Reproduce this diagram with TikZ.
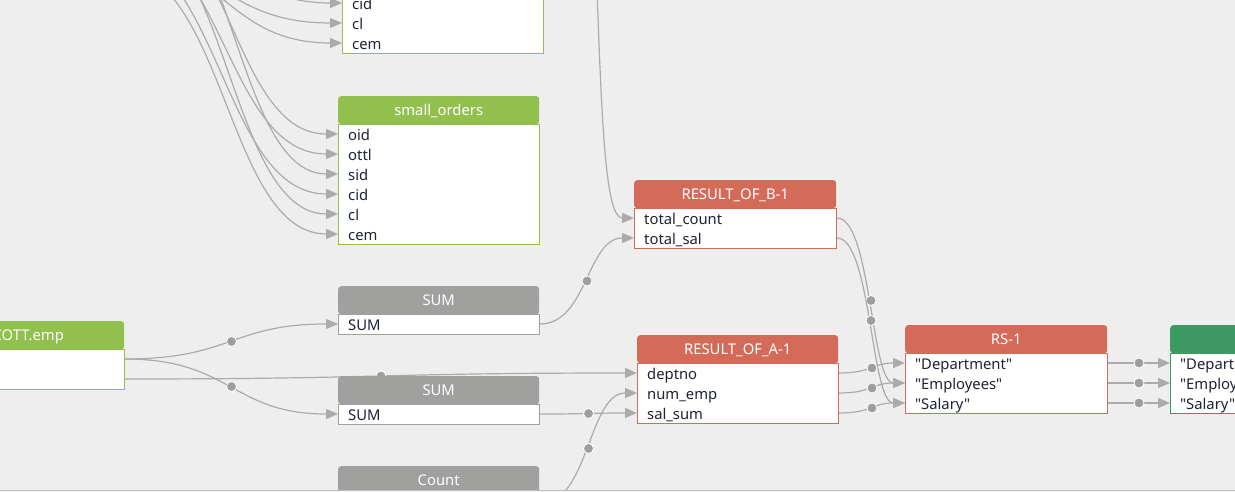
\documentclass[tikz,border=0pt]{standalone}
\usepackage{fontspec}
\setmainfont{Noto Sans}[Ligatures=TeXOff]
\usetikzlibrary{arrows.meta,calc}
\pgfdeclarelayer{back}
\pgfdeclarelayer{wires}
\pgfsetlayers{back,wires,main}
\definecolor{bgc}{HTML}{EEEEEE}
\definecolor{lime}{HTML}{92C04F}
\definecolor{redh}{HTML}{D46A58}
\definecolor{grayh}{HTML}{A0A19F}
\definecolor{dgreen}{HTML}{3E9A63}
\definecolor{connc}{HTML}{ABABAB}
\definecolor{dotc}{HTML}{9E9E9E}
\definecolor{txt}{HTML}{1F2235}
\definecolor{bline}{HTML}{BDBDBD}
\newcommand\dq{\symbol{34}}

\newcommand\mktable[8]{%
 \node[hdr, fill=#5, minimum width=#4pt] (#1-h) at (#2,#3) {#6};
 \node[bodybox, draw=#5, minimum width=#4pt, minimum height=#7pt] (#1) at (#2,#3+28) {};
 \foreach \t [count=\i] in {#8} {\node[rowtxt] (#1-\i) at (#2+10,#3+18+20*\i) {\t};}
}

\begin{document}
\begin{tikzpicture}[x=1pt,y=-1pt,
  hdr/.style={rounded corners=3pt, inner sep=0, minimum height=28pt, text=white,
    text height=14pt, text depth=3pt,
    font=\fontsize{14.8}{16}\selectfont, anchor=north west},
  bodybox/.style={fill=white, line width=1pt, inner sep=0, anchor=north west},
  rowtxt/.style={anchor=west, inner sep=0, text=txt, text height=16.5pt, text depth=3pt,
    font=\fontsize{14.8}{16}\selectfont},
  conn/.style={draw=connc, line width=1.2pt, -{Triangle[length=12pt,width=10pt]}},
  dot/.style={circle, fill=dotc, draw=white, line width=0.8pt, inner sep=0, minimum size=10pt},
  hv/.style={to path={let \p1=(\tikztostart), \p2=(\tikztotarget) in
     .. controls (\x1/2+\x2/2,\y1) and (\x1/2+\x2/2,\y2) .. (\tikztotarget) \tikztonodes}}
]
\useasboundingbox (0,0) rectangle (1235,492);
\clip (0,0) rectangle (1235,492);
\begin{pgfonlayer}{back}
\fill[bgc] (0,0) rectangle (1235,492);
\end{pgfonlayer}

\mktable{tb}{342}{-95}{201}{lime}{}{120}{{},{},{},cid,cl,cem}
\mktable{so}{338}{96}{201}{lime}{small\_orders}{120}{oid,ottl,sid,cid,cl,cem}
\mktable{sc}{-76}{321}{200}{lime}{SCOTT.emp}{40}{{},{}}
\mktable{sa}{338}{286}{201}{grayh}{SUM}{20}{SUM}
\mktable{sb}{338}{376}{201}{grayh}{SUM}{20}{SUM}
\mktable{ct}{338}{466}{201}{grayh}{Count}{20}{{}}
\mktable{rb}{634}{180}{202}{redh}{RESULT\_OF\_B-1}{40}{total\_count,total\_sal}
\mktable{ra}{637}{335}{201}{redh}{RESULT\_OF\_A-1}{60}{deptno,num\_emp,sal\_sum}
\mktable{rs}{905}{325}{202}{redh}{RS-1}{60}{\dq Department\dq,\dq Employees\dq,\dq Salary\dq}
\mktable{fg}{1170}{325}{202}{dgreen}{}{60}{\dq Department\dq,\dq Employees\dq,\dq Salary\dq}

\begin{pgfonlayer}{wires}
% sources above the view
\coordinate (o1) at (124,-90);
\coordinate (o2) at (110,-70);
\coordinate (o3) at (130,-110);
\coordinate (o4) at (104,-55);
\coordinate (o5) at (118,-80);
\coordinate (o6) at (114,-34);
\coordinate (t1) at (60,-160);
\coordinate (t2) at (70,-140);
\coordinate (t3) at (80,-125);
\coordinate (t4) at (90,-100);
\coordinate (t5) at (80,-60);
\coordinate (t6) at (100,-50);
\coordinate (up) at (597,-10);
\foreach \k in {1,...,6} {
  \draw[conn] (o\k) to[hv] (so.west |- so-\k);
  \draw[conn] (t\k) to[hv] (tb.west |- tb-\k);
}
\draw[conn] (up) .. controls (602,130) and (606,218) .. (rb.west |- rb-1);
\draw[conn] (sa.east |- sa-1) to[hv] node[dot,pos=.5]{} (rb.west |- rb-2);
\draw[conn] (sc.east |- sc-1) to[hv] node[dot,pos=.5]{} (sa.west |- sa-1);
\draw[conn] (sc.east |- sc-1) to[hv] node[dot,pos=.5]{} (sb.west |- sb-1);
\draw[conn] (sc.east |- sc-2) to[hv] node[dot,pos=.5]{} (ra.west |- ra-1);
\draw[conn] (sb.east |- sb-1) to[hv] node[dot,pos=.5]{} (ra.west |- ra-3);
\draw[conn] (ct.east |- ct-1) to[hv] node[dot,pos=.5]{} (ra.west |- ra-2);
\draw[conn] (rb.east |- rb-1) to[hv] node[dot,pos=.5]{} (rs.west |- rs-2);
\draw[conn] (rb.east |- rb-2) to[hv] node[dot,pos=.5]{} (rs.west |- rs-3);
\foreach \k in {1,2,3} {
  \draw[conn] (ra.east |- ra-\k) to[hv] node[dot,pos=.5]{} (rs.west |- rs-\k);
  \draw[conn] (rs.east |- rs-\k) to[hv] node[dot,pos=.5]{} (fg.west |- fg-\k);
}
\end{pgfonlayer}

\fill[white!96!black] (0,491) rectangle (1235,492);
\draw[bline, line width=1.5pt] (0,490.5) -- (1235,490.5);
\end{tikzpicture}
\end{document}
